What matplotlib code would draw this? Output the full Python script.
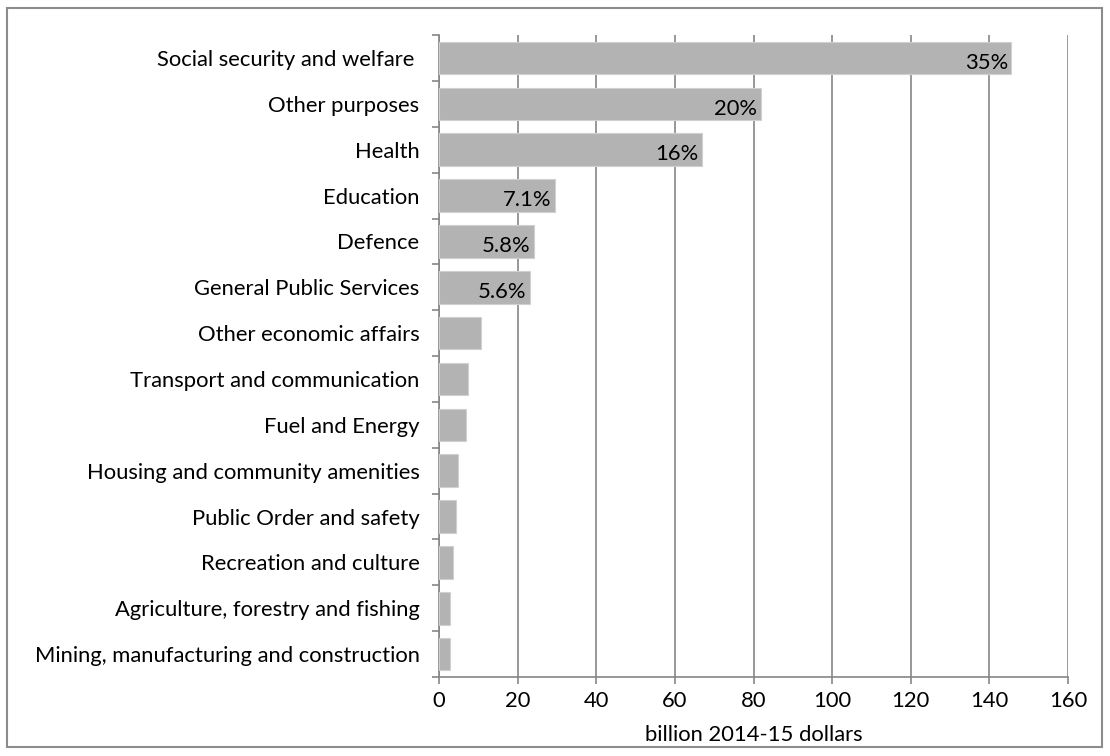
import matplotlib.pyplot as plt
from matplotlib.patches import Rectangle

categories = ['Social security and welfare ', 'Other purposes', 'Health', 'Education',
              'Defence', 'General Public Services', 'Other economic affairs',
              'Transport and communication', 'Fuel and Energy',
              'Housing and community amenities', 'Public Order and safety',
              'Recreation and culture', 'Agriculture, forestry and fishing',
              'Mining, manufacturing and construction']
values = [145.6, 81.9, 66.9, 29.5, 24.1, 23.1, 10.6, 7.3, 6.9, 4.9, 4.3, 3.5, 2.7, 2.9]
shares = ['35%', '20%', '16%', '7.1%', '5.8%', '5.6%', '', '', '', '', '', '', '', '']
xticks = [0, 20, 40, 60, 80, 100, 120, 140, 160]

plt.rcParams['font.family'] = ['Lato', 'DejaVu Sans']
axis_grey = '#868686'
fs = 15.8

fig = plt.figure(figsize=(11.1, 7.56), dpi=100)
ax = fig.add_axes([0.3955, 0.1045, 0.5667, 0.849])

pos = list(range(len(categories)))
ax.barh(pos, values, height=0.71, color='#b3b3b3', edgecolor='#d0d0d0', linewidth=0.8, zorder=3)
for p, v, s in zip(pos, values, shares):
    if s:
        ax.text(v - 0.9, p + 0.1, s, ha='right', va='center', fontsize=fs, color='black', zorder=4)

ax.set_ylim(len(categories) - 0.5, -0.5)
ax.set_xlim(0, 160)
ax.set_yticks(pos)
ax.set_yticklabels(categories, fontsize=fs)
ax.set_yticks([p + 0.5 for p in range(-1, len(categories))], minor=True)
ax.tick_params(axis='y', which='major', length=0, pad=14)
ax.tick_params(axis='y', which='minor', length=5, color=axis_grey, width=1.2)
ax.set_xticks(xticks)
ax.set_xticklabels([str(t) for t in xticks], fontsize=fs)
ax.tick_params(axis='x', length=5, color=axis_grey, width=1.2, pad=5)
ax.grid(axis='x', color=axis_grey, linewidth=1.2, zorder=0)
for side in ['top', 'right']:
    ax.spines[side].set_visible(False)
for side in ['left', 'bottom']:
    ax.spines[side].set_color(axis_grey)
    ax.spines[side].set_linewidth(1.2)
ax.set_xlabel('billion 2014-15 dollars', fontsize=fs, labelpad=10)

fig.patches.append(Rectangle((0.0065, 0.012), 0.986, 0.978, transform=fig.transFigure,
                             fill=False, edgecolor='#8c8c8c', linewidth=1.5))

fig.savefig('out.png', dpi=100)
